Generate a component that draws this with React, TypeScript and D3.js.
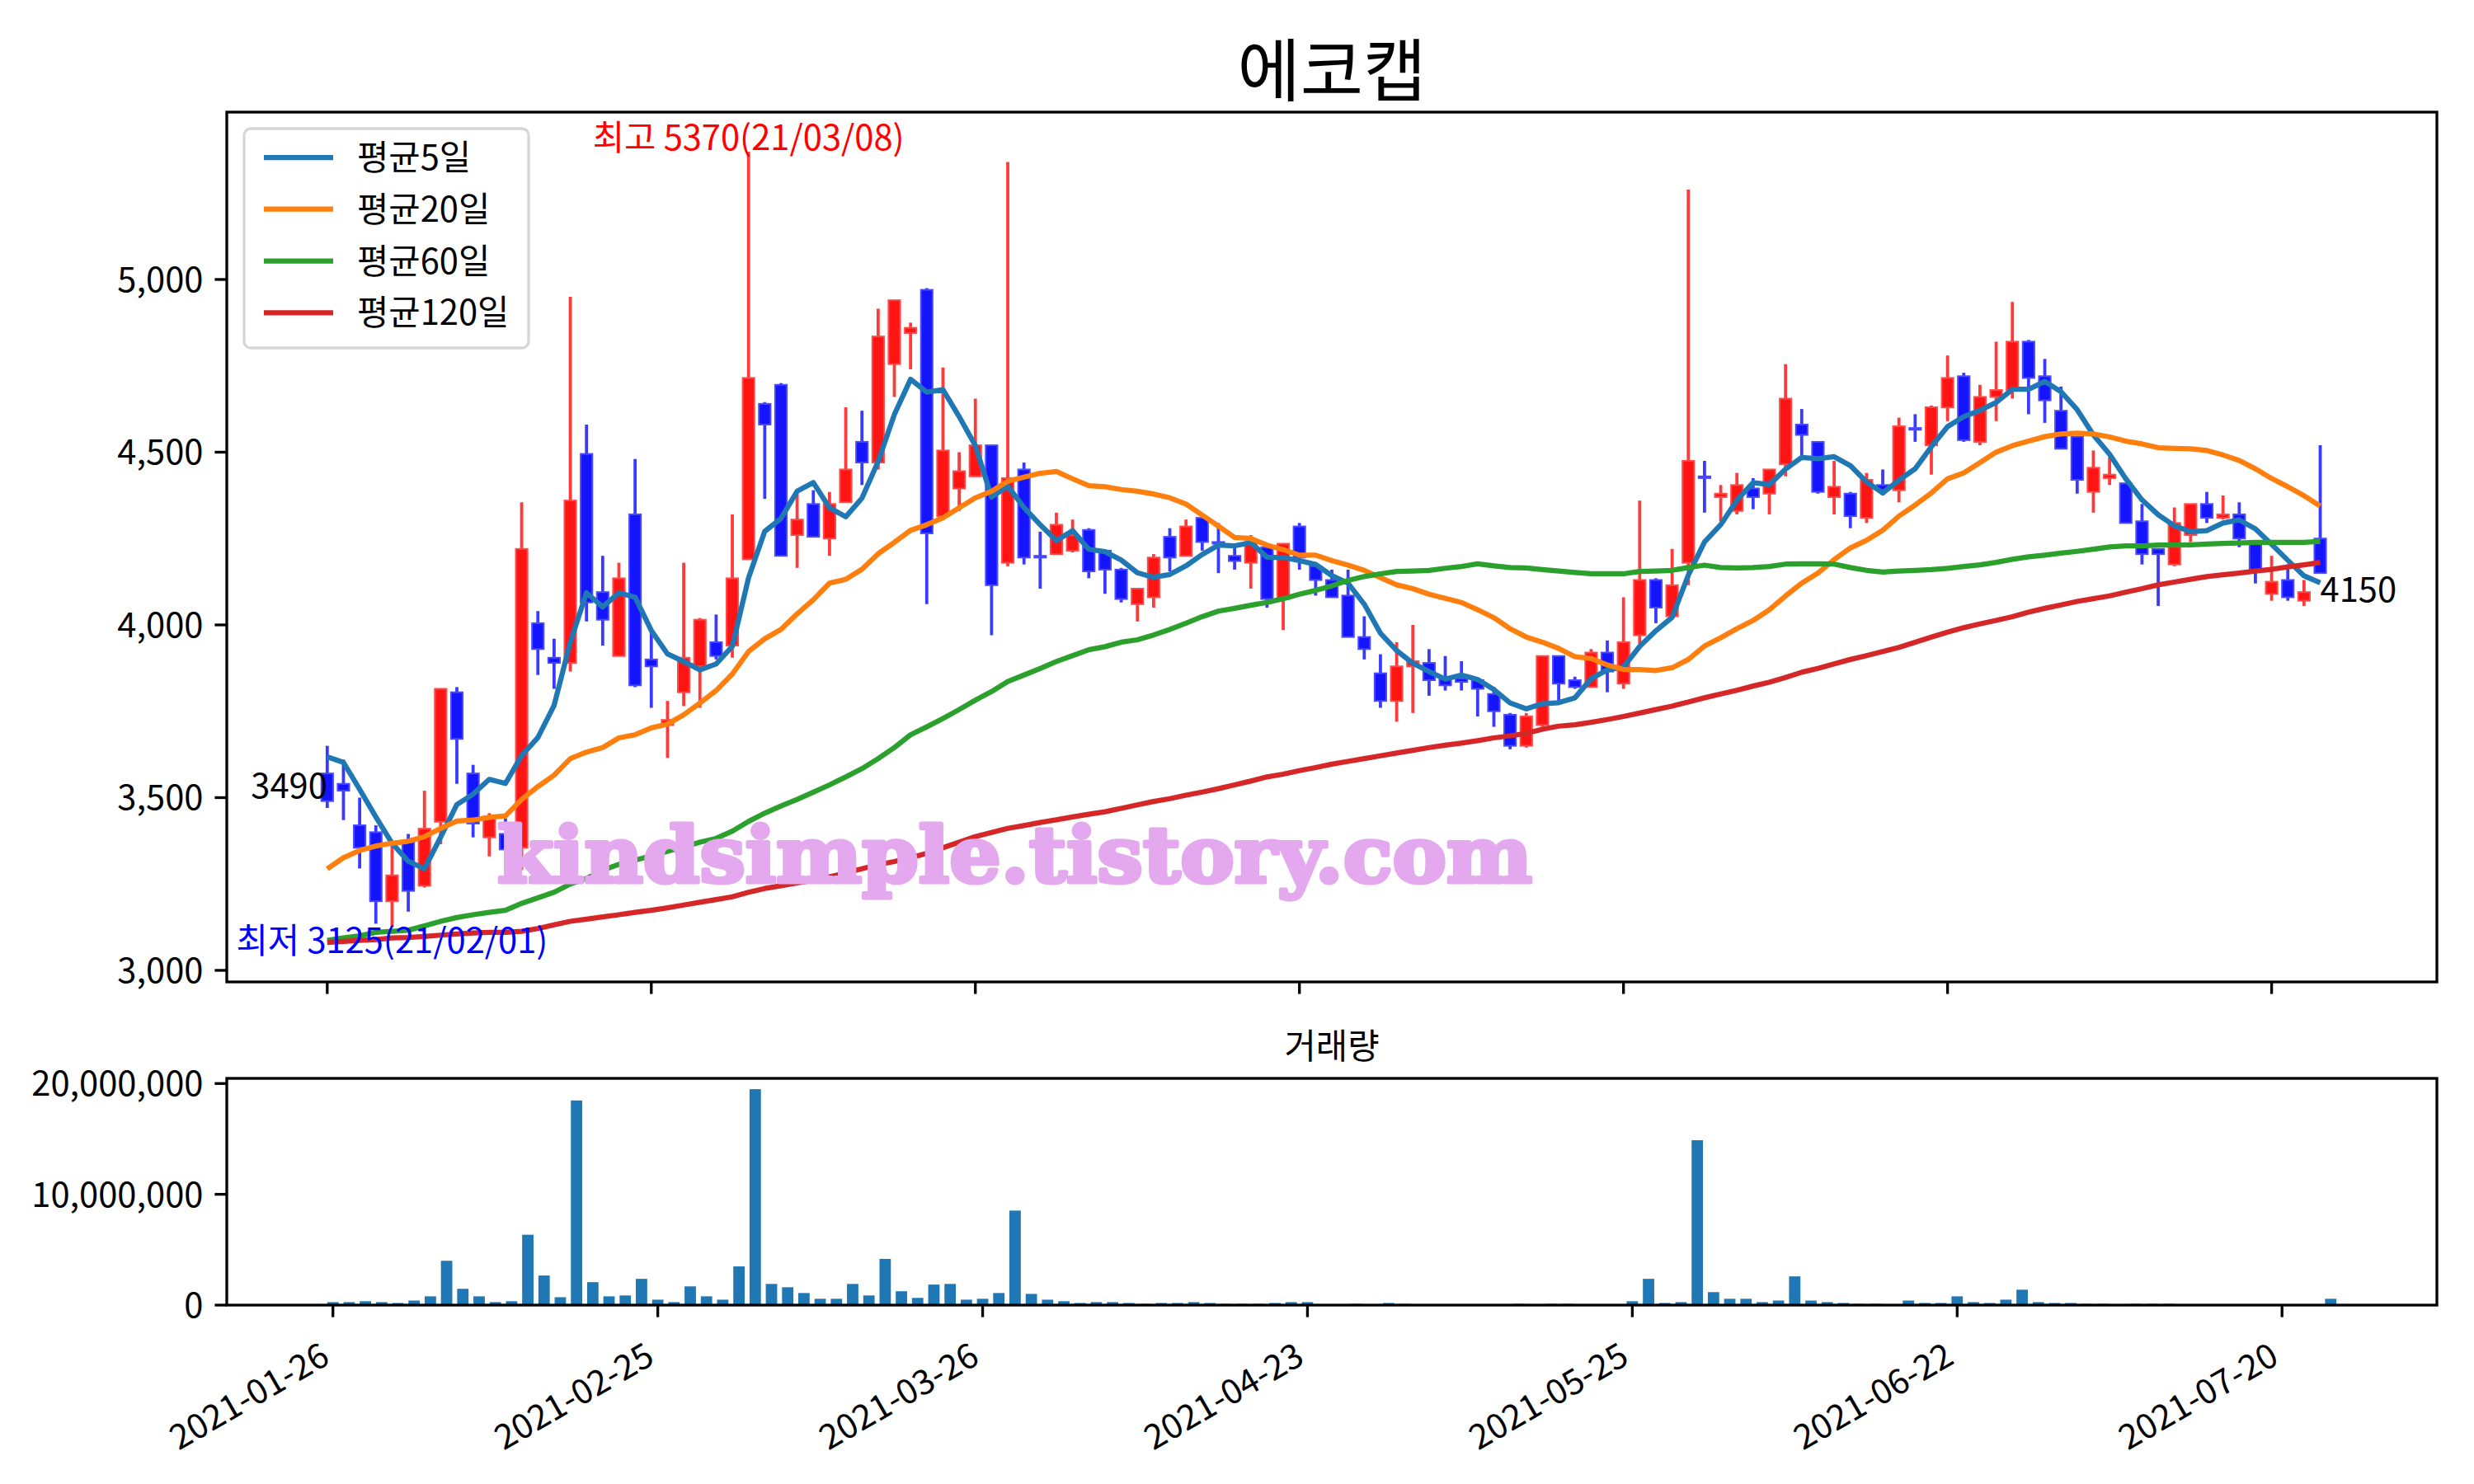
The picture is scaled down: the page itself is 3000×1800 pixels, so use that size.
import React, { useEffect } from 'react';
import * as d3 from 'd3';

const W = 3000;
const H = 1800;

const titleText = '에코캡';
const volumeTitle = '거래량';
const legendLabels = ['평균5일', '평균20일', '평균60일', '평균120일'];
const maColors = ['#1f77b4', '#ff7f0e', '#2ca02c', '#d62728'];

const tickIndex = [0, 20, 40, 60, 80, 100, 120];
const tickLabels = ['2021-01-26', '2021-02-25', '2021-03-26', '2021-04-23', '2021-05-25', '2021-06-22', '2021-07-20'];
const priceTicks = [3000, 3500, 4000, 4500, 5000];
const volumeTicks = [0, 10000000, 20000000];

const opens = [3570, 3540, 3420, 3400, 3200, 3370, 3245, 3430, 3805, 3570, 3385, 3395, 3355, 4005, 3905, 3890, 4495, 4095, 3910, 4320,
  3900, 3710, 3805, 3880, 3950, 3940, 4190, 4640, 4695, 4260, 4350, 4250, 4355, 4530, 4470, 4755, 4845, 4970, 4315, 4395,
  4430, 4520, 4180, 4450, 4200, 4205, 4215, 4275, 4215, 4160, 4060, 4080, 4255, 4200, 4310, 4240, 4200, 4180, 4225, 4075,
  4285, 4170, 4130, 4085, 3965, 3860, 3780, 3880, 3890, 3845, 3845, 3840, 3800, 3740, 3650, 3710, 3910, 3840, 3820, 3920,
  3830, 3970, 4130, 4025, 4180, 4430, 4370, 4330, 4395, 4380, 4465, 4580, 4530, 4370, 4380, 4310, 4405, 4390, 4570, 4520,
  4630, 4720, 4530, 4660, 4680, 4820, 4720, 4620, 4545, 4385, 4425, 4410, 4300, 4220, 4175, 4260, 4350, 4310, 4320, 4235,
  4090, 4130, 4070, 4250];
const highs = [3650, 3610, 3500, 3420, 3370, 3395, 3520, 3815, 3820, 3595, 3455, 3440, 4355, 4040, 3960, 4950, 4580, 4200, 4180, 4480,
  3990, 3780, 4180, 4020, 4030, 4320, 5370, 4645, 4700, 4380, 4390, 4385, 4630, 4620, 4915, 4940, 4875, 4975, 4745, 4500,
  4655, 4520, 5340, 4470, 4270, 4325, 4305, 4280, 4215, 4165, 4105, 4205, 4280, 4305, 4315, 4295, 4225, 4260, 4225, 4235,
  4295, 4180, 4160, 4160, 4025, 3915, 3950, 4000, 3930, 3910, 3895, 3845, 3820, 3745, 3745, 3910, 3910, 3850, 3930, 3955,
  4080, 4360, 4135, 4220, 5260, 4475, 4405, 4440, 4425, 4450, 4755, 4625, 4530, 4475, 4385, 4440, 4450, 4600, 4610, 4635,
  4780, 4730, 4695, 4820, 4935, 4825, 4770, 4690, 4545, 4505, 4485, 4410, 4350, 4220, 4340, 4350, 4385, 4375, 4355, 4235,
  4200, 4175, 4130, 4520];
const lows = [3470, 3435, 3295, 3135, 3125, 3170, 3240, 3365, 3540, 3385, 3330, 3340, 3290, 3855, 3815, 3865, 4010, 3940, 3910, 3820,
  3760, 3615, 3765, 3760, 3900, 3905, 4190, 4365, 4200, 4165, 4255, 4200, 4355, 4405, 4450, 4660, 4740, 4060, 4310, 4330,
  4430, 3970, 4170, 4175, 4105, 4205, 4210, 4135, 4090, 4065, 4010, 4050, 4155, 4200, 4215, 4150, 4160, 4105, 4050, 3985,
  4160, 4085, 4080, 3965, 3900, 3760, 3720, 3745, 3795, 3810, 3810, 3735, 3705, 3640, 3645, 3705, 3780, 3815, 3820, 3805,
  3815, 3945, 4005, 4020, 4115, 4325, 4300, 4320, 4335, 4320, 4430, 4490, 4380, 4320, 4280, 4295, 4375, 4355, 4530, 4435,
  4590, 4530, 4520, 4590, 4655, 4610, 4585, 4510, 4380, 4325, 4405, 4295, 4175, 4055, 4170, 4240, 4295, 4305, 4225, 4120,
  4070, 4070, 4055, 4150];
const closes = [3490, 3520, 3355, 3200, 3275, 3230, 3410, 3815, 3670, 3425, 3445, 3350, 4220, 3930, 3890, 4360, 4065, 4015, 4135, 3825,
  3880, 3725, 3905, 4015, 3910, 4135, 4715, 4580, 4200, 4305, 4255, 4350, 4450, 4470, 4835, 4940, 4860, 4265, 4505, 4445,
  4520, 4115, 4425, 4195, 4195, 4290, 4260, 4155, 4160, 4075, 4105, 4195, 4195, 4285, 4240, 4235, 4185, 4240, 4075, 4235,
  4195, 4130, 4080, 3965, 3930, 3780, 3880, 3895, 3840, 3825, 3835, 3815, 3750, 3650, 3735, 3910, 3830, 3820, 3920, 3865,
  3950, 4130, 4050, 4115, 4475, 4425, 4380, 4405, 4370, 4450, 4655, 4550, 4385, 4400, 4315, 4420, 4390, 4575, 4565, 4630,
  4715, 4535, 4660, 4680, 4820, 4715, 4650, 4510, 4420, 4455, 4435, 4295, 4205, 4205, 4295, 4350, 4310, 4320, 4250, 4160,
  4125, 4080, 4095, 4150];

const ma5 = [3618, 3602, 3524, 3444, 3368, 3316, 3294, 3386, 3480, 3510, 3553, 3541, 3622, 3674, 3767, 3950, 4093, 4052, 4093, 4080,
  3984, 3916, 3894, 3870, 3887, 3938, 4136, 4271, 4308, 4387, 4412, 4339, 4313, 4367, 4473, 4609, 4711, 4674, 4681, 4603,
  4519, 4370, 4402, 4340, 4290, 4244, 4273, 4219, 4212, 4188, 4151, 4138, 4146, 4171, 4204, 4231, 4229, 4238, 4196, 4195,
  4186, 4175, 4143, 4121, 4060, 3976, 3926, 3889, 3865, 3843, 3855, 3842, 3813, 3774, 3757, 3772, 3775, 3789, 3844, 3870,
  3878, 3938, 3983, 4022, 4144, 4240, 4290, 4361, 4412, 4406, 4451, 4485, 4481, 4487, 4461, 4414, 4382, 4419, 4452, 4516,
  4574, 4603, 4621, 4644, 4682, 4682, 4705, 4675, 4623, 4550, 4494, 4423, 4362, 4319, 4287, 4270, 4273, 4295, 4304, 4278,
  4233, 4187, 4142, 4122];
const ma20 = [3294, 3326, 3347, 3360, 3368, 3374, 3387, 3411, 3432, 3435, 3443, 3447, 3495, 3532, 3565, 3613, 3632, 3645, 3673, 3682,
  3702, 3713, 3740, 3774, 3810, 3858, 3923, 3960, 3987, 4032, 4073, 4121, 4132, 4161, 4206, 4239, 4274, 4290, 4310, 4339,
  4368, 4387, 4416, 4428, 4439, 4444, 4423, 4403, 4400, 4392, 4387, 4379, 4368, 4350, 4318, 4286, 4253, 4250, 4231, 4218,
  4202, 4202, 4186, 4173, 4158, 4137, 4116, 4105, 4089, 4077, 4065, 4044, 4021, 3989, 3965, 3950, 3932, 3908, 3903, 3884,
  3871, 3871, 3868, 3876, 3900, 3939, 3963, 3989, 4013, 4044, 4084, 4121, 4150, 4189, 4223, 4245, 4274, 4315, 4347, 4382,
  4423, 4440, 4470, 4500, 4519, 4532, 4545, 4553, 4555, 4553, 4544, 4532, 4524, 4513, 4511, 4510, 4505, 4492, 4476, 4452,
  4424, 4400, 4374, 4344];
const ma60 = [3087, 3094, 3100, 3110, 3113, 3116, 3129, 3142, 3153, 3161, 3168, 3174, 3194, 3210, 3226, 3250, 3266, 3290, 3307, 3319,
  3331, 3345, 3357, 3371, 3382, 3403, 3431, 3455, 3476, 3495, 3516, 3537, 3560, 3584, 3613, 3645, 3682, 3705, 3729, 3755,
  3782, 3807, 3836, 3855, 3874, 3894, 3911, 3928, 3937, 3950, 3957, 3971, 3987, 4005, 4024, 4040, 4048, 4057, 4065, 4076,
  4089, 4100, 4113, 4129, 4140, 4148, 4155, 4156, 4158, 4164, 4169, 4177, 4171, 4166, 4165, 4160, 4156, 4152, 4148, 4148,
  4148, 4155, 4156, 4158, 4166, 4173, 4166, 4165, 4166, 4169, 4176, 4177, 4177, 4176, 4166, 4158, 4153, 4156, 4158, 4160,
  4164, 4169, 4174, 4181, 4190, 4197, 4202, 4208, 4213, 4219, 4226, 4229, 4229, 4231, 4231, 4232, 4234, 4236, 4237, 4239,
  4239, 4239, 4239, 4242];
const ma120 = [3081, 3084, 3087, 3089, 3094, 3095, 3098, 3102, 3105, 3108, 3110, 3110, 3113, 3121, 3132, 3142, 3148, 3155, 3161, 3168,
  3174, 3181, 3189, 3197, 3205, 3213, 3226, 3237, 3245, 3253, 3261, 3271, 3282, 3294, 3306, 3315, 3326, 3339, 3355, 3371,
  3387, 3399, 3411, 3419, 3428, 3436, 3444, 3452, 3459, 3469, 3479, 3489, 3497, 3507, 3516, 3526, 3537, 3548, 3560, 3568,
  3578, 3587, 3597, 3605, 3613, 3621, 3629, 3637, 3645, 3652, 3658, 3665, 3673, 3679, 3686, 3698, 3707, 3711, 3718, 3726,
  3735, 3745, 3755, 3765, 3777, 3789, 3800, 3811, 3823, 3834, 3848, 3863, 3874, 3887, 3900, 3911, 3923, 3935, 3950, 3965,
  3979, 3992, 4003, 4013, 4024, 4037, 4048, 4058, 4068, 4076, 4084, 4095, 4105, 4116, 4124, 4132, 4140, 4145, 4150, 4156,
  4161, 4168, 4174, 4181];

const volumes = [270000, 270000, 350000, 270000, 190000, 410000, 790000, 4000000, 1470000, 790000,
  270000, 350000, 6350000, 2670000, 710000, 18470000, 2070000, 790000, 870000, 2370000,
  490000, 270000, 1690000, 790000, 490000, 3490000, 19490000, 1910000, 1610000, 1090000,
  570000, 570000, 1910000, 870000, 4170000, 1250000, 650000, 1850000, 1910000, 490000,
  570000, 1090000, 8530000, 1010000, 490000, 350000, 190000, 270000, 270000, 190000,
  110000, 190000, 190000, 270000, 190000, 110000, 110000, 110000, 190000, 270000,
  270000, 50000, 40000, 110000, 50000, 190000, 110000, 30000, 30000, 30000,
  40000, 30000, 40000, 110000, 50000, 110000, 110000, 40000, 30000, 50000,
  350000, 2370000, 190000, 270000, 14880000, 1170000, 570000, 570000, 270000, 410000,
  2590000, 410000, 270000, 190000, 110000, 110000, 50000, 410000, 190000, 190000,
  790000, 270000, 190000, 490000, 1390000, 270000, 190000, 190000, 110000, 110000,
  50000, 110000, 110000, 110000, 30000, 20000, 20000, 20000, 20000, 20000,
  20000, 20000, 20000, 570000];

const highLabel = '최고 5370(21/03/08)';
const lowLabel = '최저 3125(21/02/01)';
const highIdx = 26;
const highVal = 5370;
const lowIdx = 4;
const lowVal = 3125;
const watermark = 'kindsimple.tistory.com';

const FONT = "'Noto Sans CJK KR', 'Noto Sans', sans-serif";
const FS = 41.67;
const LW = 3.33;
const TICK = 14.6;

export default function App() {
  useEffect(() => {
    document.body.style.margin = '0';
  }, []);

  const n = closes.length;
  const idx = d3.range(n);
  const main = { left: 275, right: 2955, top: 136, bottom: 1191 };
  const vol = { left: 275, right: 2955, top: 1308, bottom: 1583 };

  const x = d3.scaleLinear().domain([-6.2, 130.2]).range([main.left, main.right]);
  const lo = d3.min([...lows, ...ma5, ...ma20, ...ma60, ...ma120]) as number;
  const hi = d3.max([...highs, ...ma5, ...ma20, ...ma60, ...ma120]) as number;
  const pad = (hi - lo) * 0.05;
  const y = d3.scaleLinear().domain([lo - pad, hi + pad]).range([main.bottom, main.top]);

  const xv = d3.scaleLinear().domain([-6.535, 129.535]).range([vol.left, vol.right]);
  const yv = d3.scaleLinear().domain([0, (d3.max(volumes) as number) * 1.05]).range([vol.bottom, vol.top]);

  const step = x(1) - x(0);
  const bodyW = step * 0.72;
  const barW = (xv(1) - xv(0)) * 0.7;
  const fmt = d3.format(',');

  const lineGen = d3.line<number>().x((_, i) => x(i)).y((v) => y(v));
  const mas = [ma5, ma20, ma60, ma120];

  const legend = { x: 296, y: 156, w: 345, h: 266 };
  const legendRows = [191, 253.7, 316.7, 379.3];

  const cx = (main.left + main.right) / 2;

  return (
    <svg width={W} height={H} style={{ position: 'absolute', left: 0, top: 0, background: '#fff' }} fontFamily={FONT}>
      <rect x={0} y={0} width={W} height={H} fill="#fff" />
      <text x={cx} y={116} textAnchor="middle" fontSize={83} fill="#000">{titleText}</text>

      {/* candles */}
      <g>
        {idx.map((i) => {
          const up = closes[i] > opens[i];
          const wick = up ? '#ff3a3a' : '#3a3aff';
          const fill = up ? '#ff1414' : '#1414ff';
          const stroke = up ? '#ff4a4a' : '#4a4aff';
          const top = y(Math.max(opens[i], closes[i]));
          const bot = y(Math.min(opens[i], closes[i]));
          const h = Math.max(bot - top, 2);
          return (
            <g key={i}>
              <line x1={x(i)} x2={x(i)} y1={y(highs[i])} y2={y(lows[i])} stroke={wick} strokeWidth={3.8} />
              <rect x={x(i) - bodyW / 2} y={top} width={bodyW} height={h} fill={fill} stroke={stroke} strokeWidth={2} />
            </g>
          );
        })}
      </g>

      {/* moving averages */}
      {mas.map((arr, k) => (
        <path key={k} d={lineGen(arr) as string} fill="none" stroke={maColors[k]} strokeWidth={6.25} strokeLinejoin="round" />
      ))}

      {/* annotations */}
      <text x={x(highIdx)} y={y(highVal) - 2} textAnchor="middle" fontSize={FS} fill="red">{highLabel}</text>
      <text x={x(lowIdx)} y={y(lowVal) + 31} textAnchor="middle" fontSize={FS} fill="blue">{lowLabel}</text>
      <text x={x(0)} y={y(closes[0]) - 4} textAnchor="end" fontSize={FS} fill="#000">{String(closes[0])}</text>
      <text x={x(n - 1)} y={y(closes[n - 1]) + 35} textAnchor="start" fontSize={FS} fill="#000">{String(closes[n - 1])}</text>

      {/* watermark */}
      <text x={603} y={1070} fontFamily="'DejaVu Serif', serif" fontWeight="bold" fontSize={94}
        fill="rgb(228,168,238)" stroke="rgb(228,168,238)" strokeWidth={5} strokeLinejoin="round"
        textLength={1255} lengthAdjust="spacingAndGlyphs">{watermark}</text>

      {/* legend */}
      <rect x={legend.x} y={legend.y} width={legend.w} height={legend.h} rx={8} ry={8} fill="#fff" fillOpacity={0.8}
        stroke="#d6d6d6" strokeWidth={3.3} />
      {legendLabels.map((lab, k) => (
        <g key={lab}>
          <line x1={320} x2={404} y1={legendRows[k]} y2={legendRows[k]} stroke={maColors[k]} strokeWidth={6.25} />
          <text x={433} y={legendRows[k] + 15} fontSize={FS} fill="#000">{lab}</text>
        </g>
      ))}

      {/* main axes frame */}
      <rect x={main.left} y={main.top} width={main.right - main.left} height={main.bottom - main.top} fill="none"
        stroke="#000" strokeWidth={LW} />
      {priceTicks.map((t) => (
        <g key={t}>
          <line x1={main.left - TICK} x2={main.left} y1={y(t)} y2={y(t)} stroke="#000" strokeWidth={LW} />
          <text x={main.left - TICK - 14} y={y(t)} dy="0.36em" textAnchor="end" fontSize={FS} fill="#000">{fmt(t)}</text>
        </g>
      ))}
      {tickIndex.map((t) => (
        <line key={t} x1={x(t)} x2={x(t)} y1={main.bottom} y2={main.bottom + TICK} stroke="#000" strokeWidth={LW} />
      ))}

      {/* volume */}
      <text x={cx} y={1284} textAnchor="middle" fontSize={FS} fill="#000">{volumeTitle}</text>
      {idx.map((i) => (
        <rect key={i} x={xv(i) - barW / 2} y={yv(volumes[i])} width={barW} height={vol.bottom - yv(volumes[i])} fill="#1f77b4" />
      ))}
      <rect x={vol.left} y={vol.top} width={vol.right - vol.left} height={vol.bottom - vol.top} fill="none"
        stroke="#000" strokeWidth={LW} />
      {volumeTicks.map((t) => (
        <g key={t}>
          <line x1={vol.left - TICK} x2={vol.left} y1={yv(t)} y2={yv(t)} stroke="#000" strokeWidth={LW} />
          <text x={vol.left - TICK - 14} y={yv(t)} dy="0.36em" textAnchor="end" fontSize={FS} fill="#000">{fmt(t)}</text>
        </g>
      ))}
      {tickIndex.map((t, k) => (
        <g key={t}>
          <line x1={xv(t)} x2={xv(t)} y1={vol.bottom} y2={vol.bottom + TICK} stroke="#000" strokeWidth={LW} />
          <text transform={`translate(${xv(t) - 18},${vol.bottom + TICK + 27}) rotate(-30)`} textAnchor="end" dy="0.78em"
            fontSize={FS} fill="#000">{tickLabels[k]}</text>
        </g>
      ))}
    </svg>
  );
}
